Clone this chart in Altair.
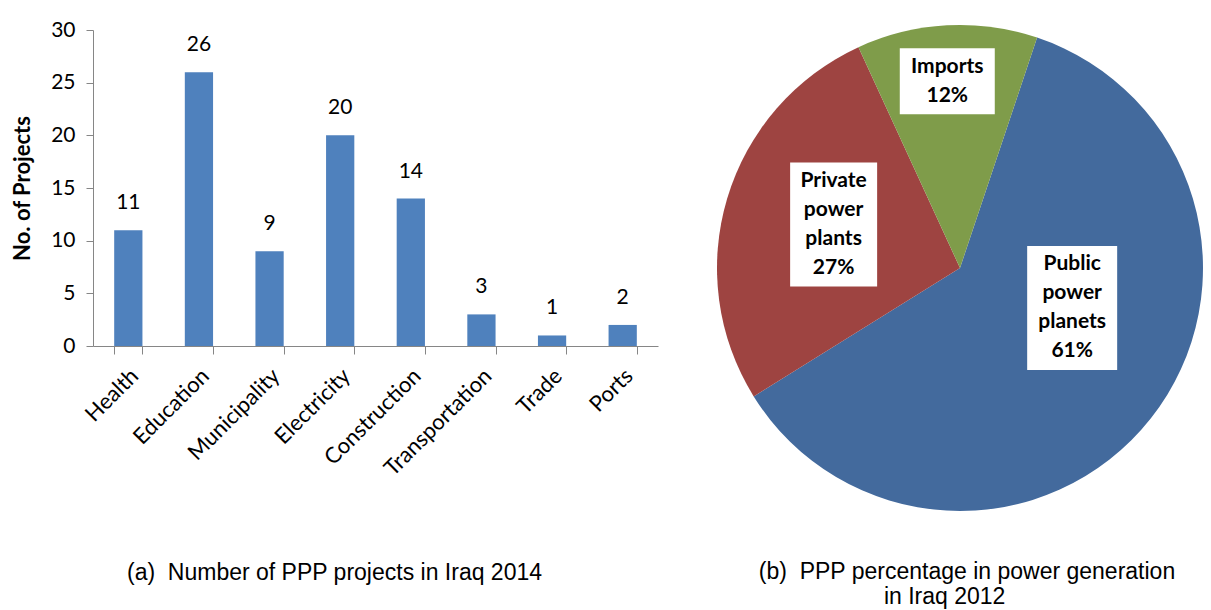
import math
import altair as alt
import pandas as pd

# ---------------- data ----------------
categories = ["Health", "Education", "Municipality", "Electricity",
              "Construction", "Transportation", "Trade", "Ports"]
projects = [11, 26, 9, 20, 14, 3, 1, 2]

source_names = ["Public power planets", "Private power plants", "Imports"]
source_lines = [["Public", "power", "planets"], ["Private", "power", "plants"], ["Imports"]]
shares = [61, 27, 12]

caption_a = "(a)\u00a0\u00a0Number of PPP projects in Iraq 2014"
caption_b = ["(b)\u00a0\u00a0PPP percentage in power generation",
             "in Iraq 2012" + "\u00a0" * 7 + "\u200b"]

# ---------------- style ----------------
FONT = "Lato"
CAP_FONT = "Liberation Sans"
BAR_COLOR = "#4F81BD"
PIE_COLORS = ["#436A9D", "#9E4441", "#7F9C4A"]
AXIS_GRAY = "#868686"

BAR_W, BAR_H = 565, 316
PIE_R = 243
PIE_W = 2 * PIE_R
CX, CY = PIE_R, 238          # arc centre inside the pie panel
PIE_H = CY + PIE_R
START_DEG = 18.5
# label placement (fraction of radius, angular nudge in degrees), box widths in px
LABEL_RFRAC = [0.49, 0.55, 0.77]
LABEL_TURN = [-18.7, 2.3, -0.8]
BOX_W = [90, 87, 95]
LINE_H = 29

# ---------------- bar panel ----------------
bar_df = pd.DataFrame({"category": categories, "projects": projects})

base = alt.Chart(bar_df).encode(
    x=alt.X("category:N", sort=None,
            scale=alt.Scale(paddingInner=0.6, paddingOuter=0.3),
            axis=alt.Axis(title=None, labelAngle=-45, labelAlign="right",
                          labelBaseline="middle", labelFont=FONT, labelFontSize=22,
                          labelColor="black", labelPadding=18, labelOffset=6,
                          tickBand="extent", tickSize=8, tickColor=AXIS_GRAY,
                          domainColor=AXIS_GRAY, labelOverlap=False)),
    y=alt.Y("projects:Q", scale=alt.Scale(domain=[0, 30], nice=False),
            axis=alt.Axis(values=[0, 5, 10, 15, 20, 25, 30], grid=False,
                          title="No. of Projects", titleFont=FONT, titleFontSize=22,
                          titleFontWeight="bold", titleColor="black", titlePadding=16,
                          labelFont=FONT, labelFontSize=21, labelColor="black",
                          labelPadding=11, tickSize=7, tickColor=AXIS_GRAY,
                          domainColor=AXIS_GRAY)),
)
bars = base.mark_bar(color=BAR_COLOR)
values = base.mark_text(baseline="bottom", dy=-17, font=FONT, fontSize=21,
                        color="black").encode(text="projects:Q")

bar_panel = (bars + values).properties(
    width=BAR_W, height=BAR_H,
    title=alt.TitleParams(caption_a, orient="bottom", anchor="middle", frame="group",
                          font=CAP_FONT, fontSize=23, fontWeight="normal",
                          color="black", offset=83, dx=-41),
)

# ---------------- pie panel ----------------
rows = []
cum = 0.0
for i, (name, lines, s) in enumerate(zip(source_names, source_lines, shares)):
    mid = START_DEG + (cum + s / 2) * 3.6 + LABEL_TURN[i]
    cum += s
    rad = math.radians(mid)
    lx = CX + PIE_R * LABEL_RFRAC[i] * math.sin(rad)
    ly = CY - PIE_R * LABEL_RFRAC[i] * math.cos(rad)
    text_lines = lines + [f"{s}%"]
    n = len(text_lines)
    bh = LINE_H * n + 8
    rows.append({
        "source": name, "share": s, "order": i,
        "label": "\n".join(text_lines),
        "tx": lx, "ty": ly - (n - 1) * LINE_H / 2,
        "bx0": lx - BOX_W[i] / 2, "bx1": lx + BOX_W[i] / 2,
        "by0": ly - bh / 2, "by1": ly + bh / 2,
    })
pie_df = pd.DataFrame(rows)

start = math.radians(START_DEG)
arcs = alt.Chart(pie_df).mark_arc(radius=PIE_R).encode(
    x=alt.value(CX), y=alt.value(CY),
    theta=alt.Theta("share:Q", stack=True,
                    scale=alt.Scale(range=[start, start + 2 * math.pi])),
    color=alt.Color("source:N", legend=None,
                    scale=alt.Scale(domain=source_names, range=PIE_COLORS)),
    order=alt.Order("order:Q"),
)
boxes = alt.Chart(pie_df).mark_rect(color="white").encode(
    x=alt.X("bx0:Q", scale=None, axis=None), x2="bx1:Q",
    y=alt.Y("by0:Q", scale=None, axis=None), y2="by1:Q",
)
texts = alt.Chart(pie_df).mark_text(
    font=FONT, fontSize=21, fontWeight="bold", color="black",
    lineBreak="\n", lineHeight=LINE_H, align="center", baseline="middle",
).encode(
    x=alt.X("tx:Q", scale=None, axis=None),
    y=alt.Y("ty:Q", scale=None, axis=None),
    text="label:N",
)

pie_panel = alt.layer(arcs, boxes, texts).properties(
    width=PIE_W, height=PIE_H,
    title=alt.TitleParams(caption_b, orient="bottom", anchor="middle", frame="group",
                          font=CAP_FONT, fontSize=23, fontWeight="normal",
                          color="black", offset=50, lineHeight=25, dx=7),
)

chart = alt.hconcat(bar_panel, pie_panel, spacing=59).properties(
    padding={"left": 3, "top": 11, "right": 0, "bottom": 0},
    background="white",
).configure_view(strokeWidth=0)

chart.save("out.html", embed_options={"renderer": "svg", "actions": False})
